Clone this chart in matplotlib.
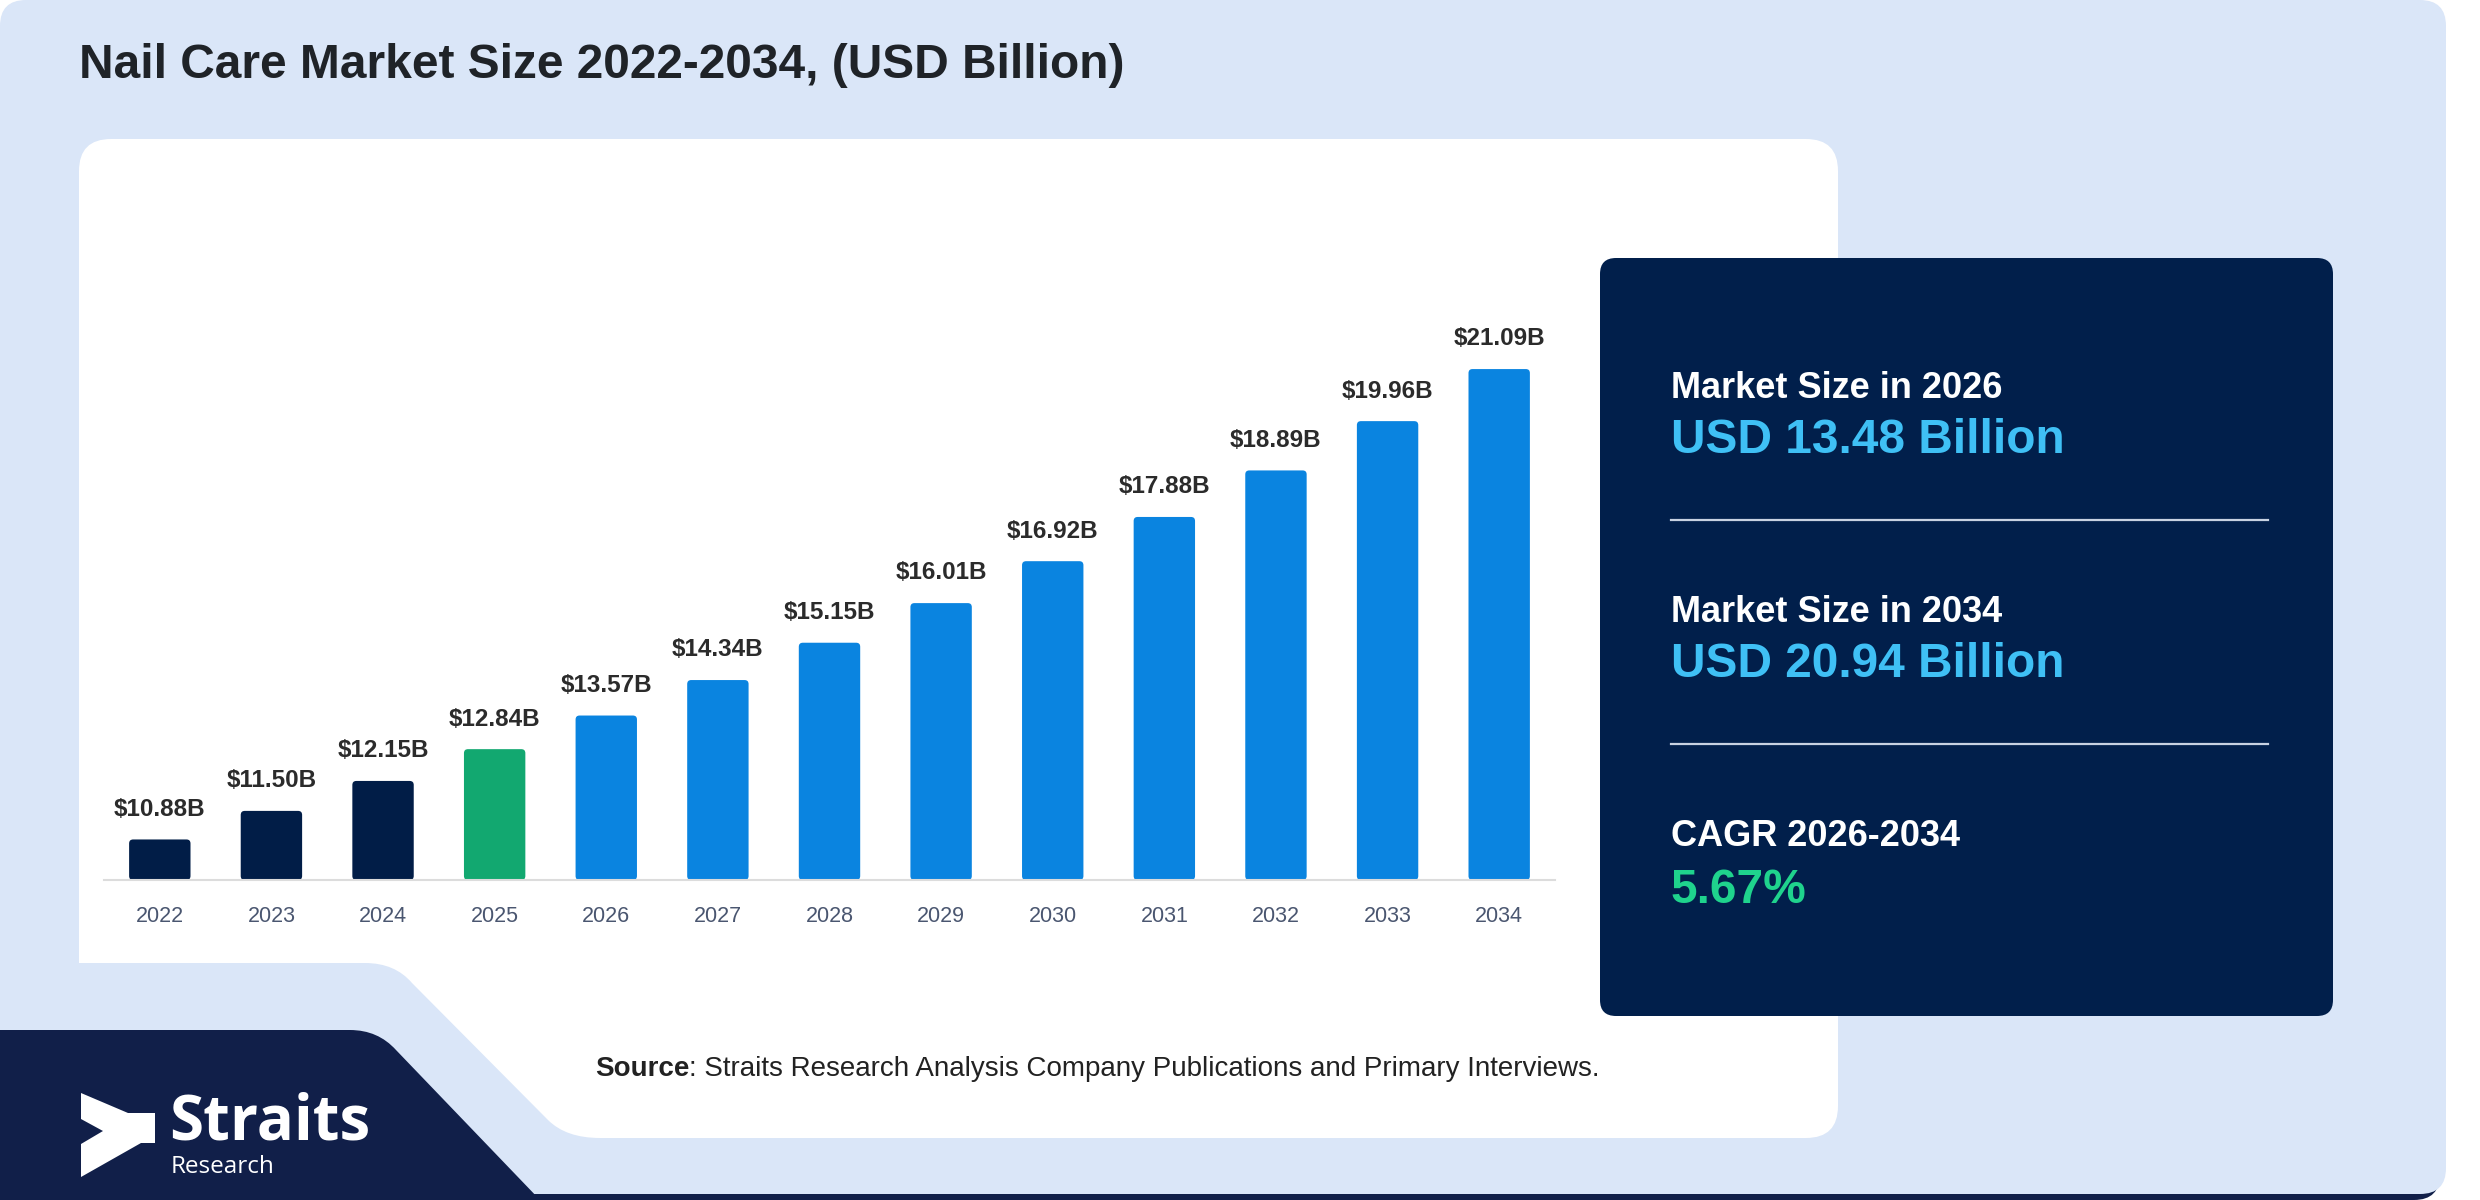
import matplotlib
matplotlib.use('Agg')
import matplotlib.pyplot as plt
from matplotlib.patches import FancyBboxPatch, PathPatch, Polygon
from matplotlib.path import Path

# ---------------- data ----------------
years = ['2022', '2023', '2024', '2025', '2026', '2027', '2028',
         '2029', '2030', '2031', '2032', '2033', '2034']
values = [10.88, 11.50, 12.15, 12.84, 13.57, 14.34, 15.15,
          16.01, 16.92, 17.88, 18.89, 19.96, 21.09]
periods = ['hist', 'hist', 'hist', 'base', 'fc', 'fc', 'fc',
           'fc', 'fc', 'fc', 'fc', 'fc', 'fc']
title = 'Nail Care Market Size 2022-2034, (USD Billion)'
card_titles = ['Market Size in 2026', 'Market Size in 2034', 'CAGR 2026-2034']
card_values = ['USD 13.48 Billion', 'USD 20.94 Billion', '5.67%']
source_bold = 'Source'
source_rest = ': Straits Research Analysis Company Publications and Primary Interviews.'

# ---------------- styles ----------------
FONT = 'Liberation Sans'
LIGHT = '#dae6f8'
NAVY = '#011f4b'
NAVY2 = '#111f49'
period_colors = {'hist': '#011d47', 'base': '#12a870', 'fc': '#0a84e0'}
value_colors = ['#3fc0f5', '#3fc0f5', '#1fd38d']

W, H = 2480, 1200
fig = plt.figure(figsize=(W / 100, H / 100), dpi=100)
fig.patch.set_facecolor('white')

bg = fig.add_axes([0, 0, 1, 1])
bg.set_xlim(0, W)
bg.set_ylim(H, 0)
bg.axis('off')

# bottom navy shadow strip + light card
bg.add_patch(FancyBboxPatch((0, 900), 2440, 300, boxstyle='round,pad=0,rounding_size=26',
                            fc=NAVY2, ec='none', zorder=0))
bg.add_patch(FancyBboxPatch((0, 0), 2446, 1194, boxstyle='round,pad=0,rounding_size=26',
                            fc=LIGHT, ec='none', zorder=1))

# white panel
bg.add_patch(FancyBboxPatch((79, 139), 1759, 999, boxstyle='round,pad=0,rounding_size=32',
                            fc='white', ec='none', zorder=2))
# light cutout lower-left of white panel
verts = [(0, 963), (365, 963), (395, 963), (412, 983), (548, 1120),
         (566, 1138), (600, 1138), (600, 1194), (0, 1194), (0, 963)]
codes = [Path.MOVETO, Path.LINETO, Path.CURVE3, Path.CURVE3, Path.LINETO,
         Path.CURVE3, Path.CURVE3, Path.LINETO, Path.LINETO, Path.CLOSEPOLY]
bg.add_patch(PathPatch(Path(verts, codes), fc=LIGHT, ec='none', zorder=3))

# navy bottom-left shape
verts = [(0, 1030), (350, 1030), (378, 1030), (396, 1050), (540, 1200),
         (0, 1200), (0, 1030)]
codes = [Path.MOVETO, Path.LINETO, Path.CURVE3, Path.CURVE3, Path.LINETO,
         Path.LINETO, Path.CLOSEPOLY]
bg.add_patch(PathPatch(Path(verts, codes), fc=NAVY2, ec='none', zorder=4))

# logo
logo = [(81, 1093), (128, 1113), (155, 1113), (155, 1143), (141, 1143),
        (81, 1177), (81, 1144), (103, 1131), (81, 1119)]
bg.add_patch(Polygon(logo, closed=True, fc='white', ec='none', zorder=5))
bg.text(169, 1140, 'Straits', family='Open Sans', weight='bold', fontsize=44.5,
        color='white', va='baseline', ha='left', zorder=6)
bg.text(171, 1173, 'Research', family='Open Sans', fontsize=17.5,
        color='white', va='baseline', ha='left', zorder=6)

# title
bg.text(79, 78, title, family=FONT, weight='bold', fontsize=34.5, color='#1f2328',
        va='baseline', ha='left', zorder=6)

# source
t = bg.text(595, 1076, source_bold, family=FONT, weight='bold', fontsize=20,
            color='#222222', va='baseline', ha='left', zorder=6)
bg.annotate(source_rest, xycoords=t, xy=(1, 0), va='bottom', ha='left',
            family=FONT, fontsize=20, color='#222222', zorder=6)

# navy card
bg.add_patch(FancyBboxPatch((1600, 258), 733, 758, boxstyle='round,pad=0,rounding_size=16',
                            fc=NAVY, ec='none', zorder=5))
tx = 1671
title_y = [398, 622, 846]
value_y = [453, 677, 903]
for i in range(3):
    bg.text(tx, title_y[i], card_titles[i], family=FONT, weight='bold', fontsize=26,
            color='white', va='baseline', ha='left', zorder=6)
    bg.text(tx, value_y[i], card_values[i], family=FONT, weight='bold', fontsize=34.5,
            color=value_colors[i], va='baseline', ha='left', zorder=6)
for y in [520, 744]:
    bg.plot([tx, 2268], [y, y], color='#c8d2e2', lw=1.6, zorder=6)

# ---------------- bar chart ----------------
AX_W, AX_H = 1451, 645
ax = fig.add_axes([104 / W, (H - 880) / H, AX_W / W, AX_H / H])
ax.set_facecolor('none')
x = list(range(len(years)))
ax.set_xlim(-0.5, len(years) - 0.5)
ax.set_ylim(10, 24)
bars = ax.bar(x, [v - 10 for v in values], bottom=10, width=0.55,
              color=[period_colors[p] for p in periods], zorder=3)
# rounded corners: redraw each bar as a rounded box from the bar geometry
px_x = AX_W / (len(years))          # pixels per x unit
px_y = AX_H / 14.0                  # pixels per y unit
r_px = 4.0
for b in bars:
    b.set_visible(False)
    ax.add_patch(FancyBboxPatch((b.get_x(), b.get_y()), b.get_width(), b.get_height(),
                                boxstyle='round,pad=0,rounding_size=%f' % (r_px / px_x),
                                mutation_aspect=px_x / px_y,
                                fc=b.get_facecolor(), ec='none', zorder=3))
for b, v in zip(bars, values):
    ax.annotate('\\$%.2fB' % v, xy=(b.get_x() + b.get_width() / 2, b.get_y() + b.get_height()),
                xytext=(0, 17), textcoords='offset points', ha='center', va='baseline',
                family=FONT, weight='bold', fontsize=17.5, color='#2b2b2b')
ax.set_xticks(x)
ax.set_xticklabels(years, family=FONT, fontsize=15.5, color='#4a5670')
ax.tick_params(axis='x', length=0, pad=19)
ax.set_yticks([])
for s in ['top', 'right', 'left']:
    ax.spines[s].set_visible(False)
ax.spines['bottom'].set_color('#dcdcdc')
ax.spines['bottom'].set_linewidth(1.5)
ax.spines['bottom'].set_zorder(4)

fig.savefig('out.png', dpi=100, facecolor='white')
